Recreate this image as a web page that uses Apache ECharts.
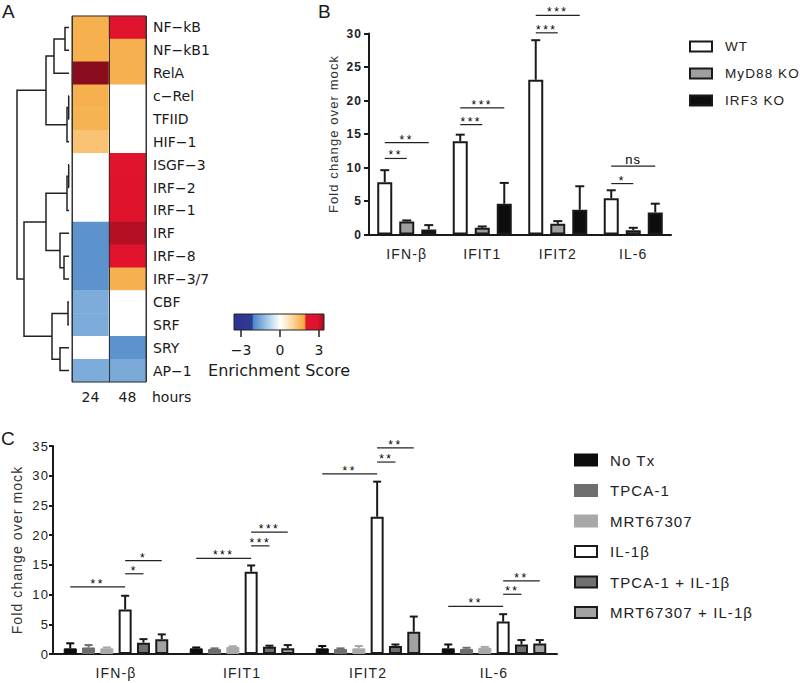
<!DOCTYPE html>
<html><head><meta charset="utf-8">
<script src="https://cdn.jsdelivr.net/npm/echarts@6/dist/echarts.min.js"></script>
<style>
html,body{margin:0;padding:0;background:#fff}
#chart{width:800px;height:683px}
#chart text[style*="Liberation"]{letter-spacing:1.1px}
#chart text[style*="Arial"]{letter-spacing:2.5px}
</style></head><body><div id="chart"></div>
<script>
// ---------- Panel A data ----------
const tfNames = ['NF−kB','NF−kB1','RelA','c−Rel','TFIID','HIF−1','ISGF−3','IRF−2','IRF−1','IRF','IRF−8','IRF−3/7','CBF','SRF','SRY','AP−1'];
const hourLabels = ['24','48'];
const score24h = [1.7, 1.7, 3.5, 1.7, 1.65, 1.35, 0, 0, 0, -1.85, -1.85, -1.85, -1.45, -1.45, 0, -1.45];
const score48h = [2.4, 1.7, 1.7, 0, 0, 0, 2.4, 2.45, 2.6, 3.2, 2.4, 1.7, 0, 0, -1.85, -1.5];
// linkage: [childA, childB, height]; leaves 0..15, clusters 16+
const dendroMerges = [
  [0, 1, 0.4], [16, 2, 1.5], [3, 4, 0.03], [18, 5, 0.2], [17, 19, 2.3],
  [6, 7, 0.03], [21, 8, 0.2], [10, 11, 0.5], [9, 23, 0.9], [22, 24, 2.3],
  [12, 13, 0.1], [14, 15, 0.9], [26, 27, 1.7], [25, 28, 4.5], [20, 29, 5.2]
];
const colorbarTicks = [-3, 0, 3];

// ---------- Panel B data ----------
const geneLabels = ['IFN-β', 'IFIT1', 'IFIT2', 'IL-6'];
const bGroups = ['WT', 'MyD88 KO', 'IRF3 KO'];
const bWT = [7.8, 13.9, 23.1, 5.4];
const bWTErr = [1.8, 1.0, 5.9, 1.2];
const bMyD88 = [1.95, 1.0, 1.6, 0.65];
const bMyD88Err = [0.15, 0.2, 0.4, 0.35];
const bIRF3 = [0.75, 4.6, 3.7, 3.3];
const bIRF3Err = [0.65, 3.1, 3.5, 1.3];
const bSig = [[0,0,1,11.35],[0,0,2,13.7],[1,0,1,16.4],[1,0,2,18.9],[2,0,1,30.1],[2,0,2,32.7],[3,0,1,7.6],[3,0,2,10.2]];
const bSigLabels = ['**','**','***','***','***','***','*','ns'];

// ---------- Panel C data ----------
const cGroups = ['No Tx', 'TPCA-1', 'MRT67307', 'IL-1β', 'TPCA-1 + IL-1β', 'MRT67307 + IL-1β'];
const cNoTx = [0.95, 0.95, 0.95, 0.95];
const cNoTxErr = [0.85, 0.15, 0.4, 0.65];
const cTPCA = [1.1, 0.85, 0.85, 0.85];
const cTPCAErr = [0.4, 0.1, 0.1, 0.2];
const cMRT = [0.95, 1.2, 0.95, 1.05];
const cMRTErr = [0.15, 0.1, 0.4, 0.15];
const cIL1b = [7.5, 13.85, 23.1, 5.45];
const cIL1bErr = [2.3, 1.05, 5.9, 1.25];
const cTPCAIL = [1.9, 1.2, 1.35, 1.6];
const cTPCAILErr = [0.6, 0.2, 0.25, 0.75];
const cMRTIL = [2.5, 0.95, 3.75, 1.75];
const cMRTILErr = [0.8, 0.55, 2.55, 0.6];
const cSig = [[0,0,3,11.3],[0,3,4,13.5],[0,3,5,15.7],[1,0,3,16.1],[1,3,4,18.2],[1,3,5,20.5],[2,0,3,30.3],[2,3,4,32.3],[2,3,5,34.7],[3,0,3,8.0],[3,3,4,10.05],[3,3,5,12.3]];
const cSigLabels = ['**','*','*','***','***','***','**','**','**','**','**','**'];

// ---------- styling helpers ----------
const DV = 'DejaVu Sans';
const LS = 'Liberation Sans';
const STAR = 'Liberation Sans, Arial';
const INK = '#1a1a1a';

const cmapAnchors = [[-3.5,'#2c3590'],[-2.12,'#2f3b95'],[-2.05,'#4b87c7'],[-1.0,'#a4c8e8'],[0,'#ffffff'],[1.0,'#fcd49a'],[1.9,'#f4a637'],[1.97,'#e3132d'],[2.9,'#e0122c'],[3.5,'#8a0d1d']];
function hex2rgb(h){return [1,3,5].map(i=>parseInt(h.substr(i,2),16));}
function rgb2hex(a){return '#'+a.map(v=>Math.round(v).toString(16).padStart(2,'0')).join('');}
function cmap(v){
  if (v <= cmapAnchors[0][0]) return cmapAnchors[0][1];
  for (let i=1;i<cmapAnchors.length;i++){
    const [v1,c1]=cmapAnchors[i];
    if (v <= v1){
      const [v0,c0]=cmapAnchors[i-1];
      const t=(v-v0)/(v1-v0), a=hex2rgb(c0), b=hex2rgb(c1);
      return rgb2hex(a.map((x,k)=>x+(b[k]-x)*t));
    }
  }
  return cmapAnchors[cmapAnchors.length-1][1];
}
const vmMin=-3.5, vmMax=3.5;
const vmColors=[]; for(let k=0;k<=140;k++){vmColors.push(cmap(vmMin+k*(vmMax-vmMin)/140));}
const cbMin=-3.54, cbMax=3.38;
const cbStops=[]; for(let k=0;k<=60;k++){const v=cbMin+k*(cbMax-cbMin)/60; cbStops.push({offset:k/60,color:cmap(v)});}

// dendrogram node positions
const nLeaf = tfNames.length;
const nodePos = tfNames.map((_,i)=>i), nodeH = tfNames.map(()=>0);
const dendroData = dendroMerges.map(([a,b,h])=>{
  const row=[h, nodePos[a], nodePos[b], nodeH[a], nodeH[b]];
  nodePos.push((nodePos[a]+nodePos[b])/2); nodeH.push(h);
  return row;
});

const heatData = [];
tfNames.forEach((_,i)=>{heatData.push([0,i,score24h[i]]);heatData.push([1,i,score48h[i]]);});

// ---------- bar geometry ----------
const B_BW=15, B_GAP=0.467, C_BW=13, C_GAP=0.408;
function offset(i,n,bw,gap){return (i-(n-1)/2)*bw*(1+gap);}

function errSeries(name, means, errs, idx, n, bw, gap, xi, color, cap){
  return {type:'custom', name: name+' err', xAxisIndex:xi, yAxisIndex:xi, z:5, silent:true,
    data: means.map((m,i)=>[i,m,errs[i]]),
    renderItem:(p,api)=>{
      const c=api.coord([api.value(0),api.value(1)]);
      const t=api.coord([api.value(0),api.value(1)+api.value(2)]);
      const x=c[0]+offset(idx,n,bw,gap);
      return {type:'group',children:[
        {type:'line',shape:{x1:x,y1:c[1],x2:x,y2:t[1]},style:{stroke:color,lineWidth:2}},
        {type:'line',shape:{x1:x-cap/2,y1:t[1],x2:x+cap/2,y2:t[1]},style:{stroke:color,lineWidth:2}}
      ]};
    }};
}
function sigSeries(rows, labels, n, bw, gap, xi){
  return {type:'custom', xAxisIndex:xi, yAxisIndex:xi, z:6, silent:true, clip:false,
    data: rows,
    renderItem:(p,api)=>{
      const pc=api.coord([api.value(0),api.value(3)]);
      const x1=pc[0]+offset(api.value(1),n,bw,gap), x2=pc[0]+offset(api.value(2),n,bw,gap);
      const lab=labels[p.dataIndex]; const isNs = lab==='ns';
      return {type:'group',children:[
        {type:'line',shape:{x1:x1,y1:pc[1],x2:x2,y2:pc[1]},style:{stroke:'#222',lineWidth:1.2}},
        {type:'text',x:(x1+x2)/2,y:pc[1]-(isNs?7:3),style:{text:lab,align:'center',verticalAlign:'middle',
          fontSize:isNs?13:12,fontFamily:isNs?LS:STAR,fill:'#000000',stroke:null}}
      ]};
    }};
}
function barSeries(name, vals, xi, bw, gap, fill, border, bwid){
  return {type:'bar', name:name, xAxisIndex:xi, yAxisIndex:xi, data:vals, barWidth:bw, barGap:(gap*100)+'%',
    itemStyle:{color:fill, borderColor:border, borderWidth:bwid}, silent:true};
}

const chart = echarts.init(document.getElementById('chart'), null, {renderer:'svg'});
const axisLineStyle = {color:INK, width:2};

chart.setOption({
  animation:false,
  backgroundColor:'#fff',
  grid:[
    {left:17, top:16, width:52, height:366, outerBoundsMode:'none'},
    {left:72, top:16, width:74, height:366, show:true, borderColor:'#333', borderWidth:1, z:5, outerBoundsMode:'none'},
    {left:234, top:314, width:90, height:16, show:true, borderColor:'#222', borderWidth:1,
      backgroundColor:{type:'linear',x:0,y:0,x2:1,y2:0,colorStops:cbStops}, outerBoundsMode:'none'},
    {left:369, top:33.5, width:302, height:201, outerBoundsMode:'none'},
    {left:53, top:446, width:504, height:208, outerBoundsMode:'none'}
  ],
  xAxis:[
    {gridIndex:0, type:'value', min:0, max:5.2, inverse:true, show:false},
    {gridIndex:1, type:'category', data:hourLabels, z:5, axisLine:{show:false}, axisTick:{show:false},
      splitLine:{show:true, lineStyle:{color:'#333', width:1}},
      axisLabel:{fontSize:14, fontFamily:DV, color:INK, margin:8}},
    {gridIndex:2, type:'value', min:cbMin, max:cbMax, axisLine:{show:false}, splitLine:{show:false},
      axisTick:{show:true, customValues:colorbarTicks, length:7, lineStyle:{color:'#222', width:1.5}},
      axisLabel:{customValues:colorbarTicks, fontSize:14, fontFamily:DV, color:INK, margin:13,
        formatter:v=>v<0?'−'+Math.abs(v):String(v)},
      name:'Enrichment Score', nameLocation:'middle', nameGap:32,
      nameTextStyle:{fontSize:16, fontFamily:DV, color:INK}},
    {gridIndex:3, type:'category', data:geneLabels, axisLine:{lineStyle:axisLineStyle},
      axisTick:{alignWithLabel:true, length:6, lineStyle:axisLineStyle},
      axisLabel:{fontSize:14, fontFamily:LS, color:'#222', margin:12}},
    {gridIndex:4, type:'category', data:geneLabels, axisLine:{lineStyle:axisLineStyle},
      axisTick:{alignWithLabel:true, length:6, lineStyle:axisLineStyle},
      axisLabel:{fontSize:14, fontFamily:LS, color:'#222', margin:12}}
  ],
  yAxis:[
    {gridIndex:0, type:'value', min:-0.5, max:nLeaf-0.5, inverse:true, show:false},
    {gridIndex:1, type:'category', data:tfNames, inverse:true, position:'right',
      axisLine:{show:false}, axisTick:{show:false},
      axisLabel:{fontSize:14, fontFamily:DV, color:INK, margin:7}},
    {gridIndex:2, type:'value', show:false},
    {gridIndex:3, type:'value', min:0, max:30, interval:5, splitLine:{show:false},
      axisLine:{show:true, lineStyle:axisLineStyle}, axisTick:{show:true, length:5, lineStyle:axisLineStyle},
      axisLabel:{fontSize:12, fontWeight:'bold', fontFamily:LS, color:'#222', margin:7},
      name:'Fold change over mock', nameLocation:'middle', nameRotate:90, nameGap:29,
      nameTextStyle:{fontSize:13, fontFamily:LS, color:'#333'}},
    {gridIndex:4, type:'value', min:0, max:35, interval:5, splitLine:{show:false},
      axisLine:{show:true, lineStyle:axisLineStyle}, axisTick:{show:true, length:4, lineStyle:axisLineStyle},
      axisLabel:{fontSize:13, fontFamily:LS, color:'#222', margin:4},
      name:'Fold change over mock', nameLocation:'middle', nameRotate:90, nameGap:22,
      nameTextStyle:{fontSize:14, fontFamily:LS, color:'#333'}}
  ],
  visualMap:{type:'continuous', show:false, seriesIndex:1, dimension:2, min:vmMin, max:vmMax, inRange:{color:vmColors}},
  legend:[
    {left:689, top:39, padding:0, orient:'vertical', icon:'rect', itemWidth:22, itemHeight:10, itemGap:12, selectedMode:false,
      data:bGroups, textStyle:{fontSize:13.5, lineHeight:15, fontFamily:LS, color:'#222', padding:[0,0,0,8]}},
    {left:574, top:452.5, padding:0, orient:'vertical', icon:'rect', itemWidth:22, itemHeight:11, itemGap:15.5, selectedMode:false,
      data:cGroups, textStyle:{fontSize:15, lineHeight:15, fontFamily:LS, color:'#222', padding:[0,0,0,8]}}
  ],
  graphic:[
    {type:'text', left:2, top:2, style:{text:'A', fontSize:19, fontFamily:LS, fill:INK}},
    {type:'text', left:318, top:2, style:{text:'B', fontSize:19, fontFamily:LS, fill:INK}},
    {type:'text', left:1, top:429, style:{text:'C', fontSize:19, fontFamily:LS, fill:INK}},
    {type:'text', x:152, y:397, style:{text:'hours', fontSize:14, fontFamily:DV, fill:INK, verticalAlign:'middle'}}
  ],
  series:[
    {type:'custom', xAxisIndex:0, yAxisIndex:0, silent:true, data:dendroData,
      renderItem:(p,api)=>{
        const h=api.value(0), ya=api.value(1), yb=api.value(2), ha=api.value(3), hb=api.value(4);
        return {type:'polyline', shape:{points:[api.coord([ha,ya]),api.coord([h,ya]),api.coord([h,yb]),api.coord([hb,yb])]},
          style:{stroke:'#222', lineWidth:1.5, fill:null}};
      }},
    {type:'heatmap', xAxisIndex:1, yAxisIndex:1, data:heatData, silent:true, itemStyle:{borderWidth:0}},
    barSeries('WT', bWT, 3, B_BW, B_GAP, '#ffffff', INK, 2),
    barSeries('MyD88 KO', bMyD88, 3, B_BW, B_GAP, '#9f9f9f', INK, 2),
    barSeries('IRF3 KO', bIRF3, 3, B_BW, B_GAP, '#0d0d0d', INK, 2),
    errSeries('WT', bWT, bWTErr, 0, 3, B_BW, B_GAP, 3, INK, 9),
    errSeries('MyD88 KO', bMyD88, bMyD88Err, 1, 3, B_BW, B_GAP, 3, INK, 9),
    errSeries('IRF3 KO', bIRF3, bIRF3Err, 2, 3, B_BW, B_GAP, 3, INK, 9),
    sigSeries(bSig, bSigLabels, 3, B_BW, B_GAP, 3),
    barSeries('No Tx', cNoTx, 4, C_BW, C_GAP, '#0d0d0d', '#0d0d0d', 1),
    barSeries('TPCA-1', cTPCA, 4, C_BW, C_GAP, '#6e6e6e', '#6e6e6e', 1),
    barSeries('MRT67307', cMRT, 4, C_BW, C_GAP, '#a8a8a8', '#a8a8a8', 1),
    barSeries('IL-1β', cIL1b, 4, C_BW, C_GAP, '#ffffff', INK, 2),
    barSeries('TPCA-1 + IL-1β', cTPCAIL, 4, C_BW, C_GAP, '#707070', INK, 2),
    barSeries('MRT67307 + IL-1β', cMRTIL, 4, C_BW, C_GAP, '#a2a2a2', INK, 2),
    errSeries('No Tx', cNoTx, cNoTxErr, 0, 6, C_BW, C_GAP, 4, '#0d0d0d', 8),
    errSeries('TPCA-1', cTPCA, cTPCAErr, 1, 6, C_BW, C_GAP, 4, '#6e6e6e', 8),
    errSeries('MRT67307', cMRT, cMRTErr, 2, 6, C_BW, C_GAP, 4, '#a8a8a8', 8),
    errSeries('IL-1β', cIL1b, cIL1bErr, 3, 6, C_BW, C_GAP, 4, INK, 8),
    errSeries('TPCA-1 + IL-1β', cTPCAIL, cTPCAILErr, 4, 6, C_BW, C_GAP, 4, INK, 8),
    errSeries('MRT67307 + IL-1β', cMRTIL, cMRTILErr, 5, 6, C_BW, C_GAP, 4, INK, 8),
    sigSeries(cSig, cSigLabels, 6, C_BW, C_GAP, 4)
  ]
});
</script></body></html>
